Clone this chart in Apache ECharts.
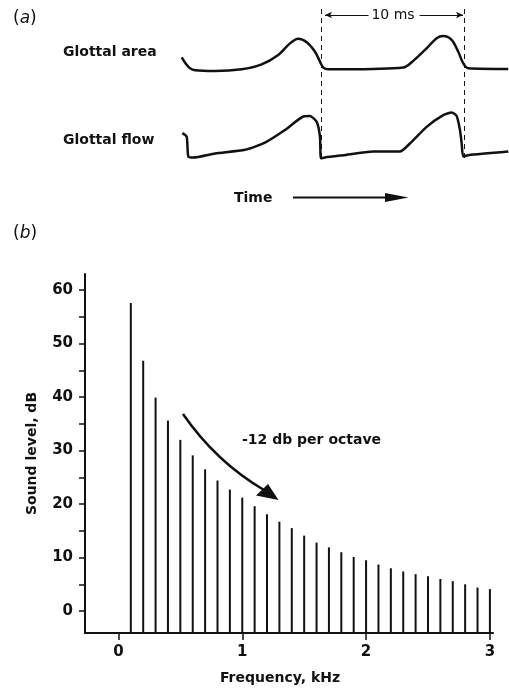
<!DOCTYPE html>
<html>
<head>
<meta charset="utf-8">
<script src="https://cdn.jsdelivr.net/npm/echarts@6/dist/echarts.min.js"></script>
<style>html,body{margin:0;padding:0;background:#fff;}#chart{width:509px;height:691px;}</style>
</head>
<body>
<div id="chart"></div>
<script>
// ---- Panel (a): waveforms, time in ms, amplitude in arbitrary units ----
const areaTime = [0.26,0.56,0.84,1.19,2.59,4.45,5.85,7.01,7.83,8.41,9.0,9.58,9.93,10.16,10.51,11.68,15.76,16.45,17.39,18.09,18.55,19.14,19.6,19.95,20.3,23.1];
const areaAmp  = [0.36,0.17,0.05,-0.01,-0.03,0.02,0.16,0.43,0.76,0.89,0.79,0.52,0.24,0.07,0.02,0.02,0.07,0.26,0.62,0.91,0.97,0.86,0.52,0.19,0.05,0.03];
const flowTime = [0.3,0.61,0.72,1.07,2.59,4.69,6.08,7.48,8.76,9.23,9.7,9.93,10.0,10.28,11.56,13.66,15.52,16.22,17.39,18.55,19.14,19.49,19.72,19.84,19.95,20.3,23.1];
const flowAmp  = [0.53,0.45,0.01,-0.01,0.08,0.16,0.32,0.6,0.9,0.91,0.78,0.45,-0.03,-0.01,0.04,0.12,0.12,0.3,0.67,0.93,0.99,0.91,0.6,0.3,0.01,0.04,0.12];
const periodMarks = [10, 20];   // ms, dashed lines
const periodLabel = '10 ms';

// ---- Panel (b): harmonic spectrum ----
const freqKHz = [0.1,0.2,0.3,0.4,0.5,0.6,0.7,0.8,0.9,1.0,1.1,1.2,1.3,1.4,1.5,1.6,1.7,1.8,1.9,2.0,2.1,2.2,2.3,2.4,2.5,2.6,2.7,2.8,2.9,3.0];
const levelDB = [57.6,46.8,39.9,35.6,32.0,29.1,26.5,24.4,22.7,21.2,19.6,18.1,16.7,15.5,14.1,12.8,11.9,11.0,10.1,9.5,8.7,8.0,7.4,6.9,6.5,6.0,5.6,5.0,4.4,4.1];
const yTickLabels = [0,10,20,30,40,50,60];
const yTicks = [0,5,10,15,20,25,30,35,40,45,50,55,60];
const xTickLabels = [0,1,2,3];

const Y_MIN = -4.1, Y_MAX = 63, X_MIN = -0.27, X_MAX = 3.025;
const T_MAX = 23.15;
const INK = '#111';
const FONT = 'DejaVu Sans';

const zip = (a, b) => a.map((v, i) => [v, b[i]]);

const hiddenAxis = (gi, min, max) => ({gridIndex: gi, type: 'value', min, max, show: false});

const chart = echarts.init(document.getElementById('chart'), null, {renderer: 'canvas'});

const option = {
  backgroundColor: '#fff',
  animation: false,
  grid: [
    {left: 178, top: 7, width: 331, height: 151},   // annotation (dashed lines, 10 ms)
    {left: 178, top: 35, width: 331, height: 35},   // glottal area
    {left: 178, top: 112, width: 331, height: 45},  // glottal flow
    {left: 85, right: 16, top: 274, bottom: 58}     // spectrum
  ],
  xAxis: [
    hiddenAxis(0, 0, T_MAX),
    hiddenAxis(1, 0, T_MAX),
    hiddenAxis(2, 0, T_MAX),
    {
      gridIndex: 3, type: 'value', min: X_MIN, max: X_MAX,
      name: 'Frequency, kHz', nameLocation: 'middle', nameGap: 38,
      nameTextStyle: {fontFamily: FONT, fontWeight: 'bold', fontSize: 14, color: INK, padding: [0, 18, 0, 0]},
      axisLine: {show: true, onZero: false, lineStyle: {color: INK, width: 2}},
      axisTick: {show: true, customValues: xTickLabels, length: 7, lineStyle: {color: INK, width: 1.5}},
      axisLabel: {customValues: xTickLabels, margin: 12, fontFamily: FONT, fontWeight: 'bold', fontSize: 15, color: INK},
      splitLine: {show: false}
    }
  ],
  yAxis: [
    hiddenAxis(0, 0, 1),
    hiddenAxis(1, 0, 1),
    hiddenAxis(2, 0, 1),
    {
      gridIndex: 3, type: 'value', min: Y_MIN, max: Y_MAX,
      name: 'Sound level, dB', nameLocation: 'middle', nameGap: 46, nameRotate: 90,
      nameTextStyle: {fontFamily: FONT, fontWeight: 'bold', fontSize: 14, color: INK},
      axisLine: {show: true, onZero: false, lineStyle: {color: INK, width: 2}},
      axisTick: {show: true, customValues: yTicks, length: 6, lineStyle: {color: INK, width: 1.5}},
      axisLabel: {customValues: yTickLabels, margin: 12, fontFamily: FONT, fontWeight: 'bold', fontSize: 15, color: INK},
      splitLine: {show: false}
    }
  ],
  series: [
    {
      type: 'line', xAxisIndex: 0, yAxisIndex: 0, data: [], silent: true,
      markLine: {
        silent: true, symbol: 'none', animation: false,
        label: {show: false},
        lineStyle: {color: INK, width: 1, type: [5, 4]},
        data: periodMarks.map(t => [{coord: [t, 0]}, {coord: [t, 1]}]).concat([
          [{coord: [periodMarks[0] + 0.28, 0.947], symbol: 'arrow', symbolSize: [5, 7]},
           {coord: [periodMarks[0] + 3.33, 0.947], symbol: 'none'}],
          [{coord: [periodMarks[1] - 3.1, 0.947], symbol: 'none'},
           {coord: [periodMarks[1] - 0.07, 0.947], symbol: 'arrow', symbolSize: [5, 7]}]
        ]).map(d => d.map(p => Object.assign({lineStyle: {type: p.symbol ? 'solid' : undefined}}, p)))
      }
    },
    {
      type: 'line', xAxisIndex: 1, yAxisIndex: 1, data: zip(areaTime, areaAmp),
      smooth: 0.3, showSymbol: false, clip: false, silent: true,
      lineStyle: {color: INK, width: 2.5}
    },
    {
      type: 'line', xAxisIndex: 2, yAxisIndex: 2, data: zip(flowTime, flowAmp),
      smooth: 0.2, showSymbol: false, clip: false, silent: true,
      lineStyle: {color: INK, width: 2.5}
    },
    {
      type: 'custom', xAxisIndex: 3, yAxisIndex: 3, data: zip(freqKHz, levelDB), silent: true,
      renderItem: function (params, api) {
        const x = api.value(0), v = api.value(1);
        const p0 = api.coord([x, Y_MIN]);
        const p1 = api.coord([x, v]);
        return {type: 'line', shape: {x1: p0[0], y1: p0[1], x2: p1[0], y2: p1[1]}, style: {stroke: INK, lineWidth: 2}};
      }
    }
  ],
  graphic: [
    {type: 'text', left: 13, top: 10, style: {text: '({a|a})', fontFamily: FONT, fontSize: 17, fill: INK,
      rich: {a: {fontFamily: FONT, fontSize: 17, fontStyle: 'italic', fill: INK}}}},
    {type: 'text', left: 13, top: 225, style: {text: '({b|b})', fontFamily: FONT, fontSize: 17, fill: INK,
      rich: {b: {fontFamily: FONT, fontSize: 17, fontStyle: 'italic', fill: INK}}}},
    {type: 'text', x: 63, y: 52, style: {text: 'Glottal area', fontFamily: FONT, fontWeight: 'bold', fontSize: 14, fill: INK, verticalAlign: 'middle'}},
    {type: 'text', x: 63, y: 140, style: {text: 'Glottal flow', fontFamily: FONT, fontWeight: 'bold', fontSize: 14, fill: INK, verticalAlign: 'middle'}},
    {type: 'text', x: 393, y: 15, style: {text: periodLabel, fontFamily: FONT, fontSize: 14, fill: INK, align: 'center', verticalAlign: 'middle'}},
    {type: 'text', x: 234, y: 198, style: {text: 'Time', fontFamily: FONT, fontWeight: 'bold', fontSize: 14, fill: INK, verticalAlign: 'middle'}},
    {type: 'line', shape: {x1: 293, y1: 197.5, x2: 392, y2: 197.5}, style: {stroke: INK, lineWidth: 2}},
    {type: 'polygon', shape: {points: [[408.5, 197.5], [385, 193], [385, 202]]}, style: {fill: INK}},
    {type: 'text', x: 242, y: 440, style: {text: '-12 db per octave', fontFamily: FONT, fontWeight: 'bold', fontSize: 14, fill: INK, verticalAlign: 'middle'}},
    {type: 'bezierCurve', shape: {x1: 183, y1: 414, cpx1: 203, cpy1: 443, cpx2: 230, cpy2: 470, x2: 264, y2: 490}, style: {stroke: INK, lineWidth: 2.5, fill: null}},
    {type: 'polygon', shape: {points: [[278.5, 500], [256, 495.5], [268, 484]]}, style: {fill: INK}}
  ]
};
chart.setOption(option);
</script>
</body>
</html>
